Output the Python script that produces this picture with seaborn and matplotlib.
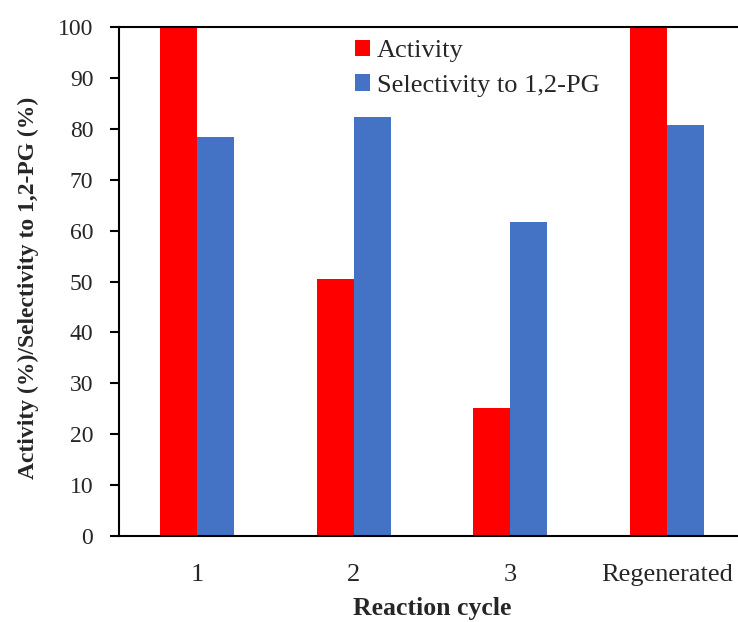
import matplotlib
matplotlib.use("Agg")
import matplotlib.pyplot as plt
import seaborn as sns
import pandas as pd

categories = ["1", "2", "3", "Regenerated"]
activity = [100, 50.4, 25.1, 100]
selectivity = [78.3, 82.3, 61.6, 80.7]
series_names = ["Activity", "Selectivity to 1,2-PG"]
colors = ["#FF0000", "#4472C4"]

df = pd.DataFrame({
    "cycle": categories * 2,
    "value": activity + selectivity,
    "series": [series_names[0]] * 4 + [series_names[1]] * 4,
})

sns.set_theme(style="white")
plt.rcParams['font.family'] = ['Liberation Serif', 'DejaVu Serif']

W, H = 738, 622
fig = plt.figure(figsize=(W / 100, H / 100), dpi=100)
left, right, top, bottom = 119, 745, 27, 536
ax = fig.add_axes([left / W, 1 - bottom / H, (right - left) / W, (bottom - top) / H])

sns.barplot(data=df, x="cycle", y="value", hue="series", palette=colors,
            width=0.47, saturation=1, ax=ax, errorbar=None, legend=True,
            linewidth=0)

ax.set_xlim(-0.5, 3.5)
ax.set_ylim(0, 100)
ax.set_yticks(range(0, 101, 10))
ax.tick_params(axis="y", which="both", direction="out", length=6.5, width=1.5,
               labelsize=17, pad=12, left=True, color="black")
ax.tick_params(axis="x", length=0, labelsize=19, pad=20)
for s in ["left", "bottom", "top"]:
    ax.spines[s].set_visible(True)
    ax.spines[s].set_linewidth(1.5)
    ax.spines[s].set_color("black")
ax.spines["right"].set_visible(False)

ax.set_xlabel("Reaction cycle", fontsize=18.5, fontweight="bold")
ax.xaxis.set_label_coords(0.5, -(608 - bottom) / (bottom - top))
ax.xaxis.label.set_va("center")
ax.set_ylabel("Activity (%)/Selectivity to 1,2-PG (%)", fontsize=17, fontweight="bold")
ax.yaxis.set_label_coords(-(119 - 28) / (right - left), (536 - 288) / (bottom - top))
ax.yaxis.label.set_va("center")

leg = ax.legend(loc="upper left", bbox_to_anchor=(355 / W, 1 - 40 / H),
                bbox_transform=fig.transFigure, frameon=False, fontsize=19,
                handlelength=0.57, handleheight=0.57, handletextpad=0.27,
                labelspacing=0.45, borderpad=0, borderaxespad=0, title=None)

fig.savefig("out.png", dpi=100)
